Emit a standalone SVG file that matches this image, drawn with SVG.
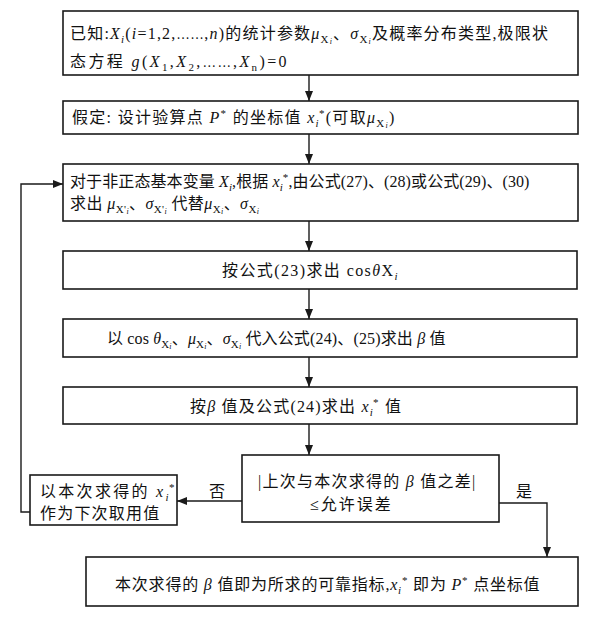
<svg xmlns="http://www.w3.org/2000/svg" width="605" height="619" viewBox="0 0 605 619">
<style>
.box{fill:#fff;stroke:#1a1a1a;stroke-width:1.6}
.ln{fill:none;stroke:#1a1a1a;stroke-width:1.4}
text{font-family:"Liberation Serif","Noto Sans CJK SC",serif;font-size:16px;fill:#111}
.i{font-style:italic}
.s{font-size:11px}
.ss{font-size:8px;font-style:italic}
.d{font-family:"Noto Sans CJK SC",sans-serif;font-size:12px}
</style>
<defs>
<marker id="ah" markerWidth="10" markerHeight="8" refX="10" refY="4" orient="auto" markerUnits="userSpaceOnUse">
<path d="M0,0 L10,4 L0,8 Z" fill="#1a1a1a"/>
</marker>
</defs>
<rect width="605" height="619" fill="#fff"/>
<g id="connectors">
<line class="ln" x1="309" y1="75" x2="309" y2="101" marker-end="url(#ah)"/>
<line class="ln" x1="309" y1="134" x2="309" y2="164" marker-end="url(#ah)"/>
<line class="ln" x1="309" y1="221" x2="309" y2="251" marker-end="url(#ah)"/>
<line class="ln" x1="309" y1="289" x2="309" y2="319" marker-end="url(#ah)"/>
<line class="ln" x1="309" y1="357" x2="309" y2="387" marker-end="url(#ah)"/>
<line class="ln" x1="309" y1="424" x2="309" y2="455" marker-end="url(#ah)"/>
<line class="ln" x1="242" y1="501" x2="177" y2="501" marker-end="url(#ah)"/>
<polyline class="ln" points="30,512 21,512 21,184 63,184" marker-end="url(#ah)"/>
<polyline class="ln" points="499,503 547,503 547,557" marker-end="url(#ah)"/>
<text x="209" y="497">否</text>
<text x="516" y="497">是</text>
</g>
<g id="n1">
<rect class="box" x="63" y="11" width="515" height="64"/>
<text x="70" y="39" letter-spacing="1.2">已知:<tspan class="i">X</tspan><tspan class="s i" dy="4">i</tspan><tspan dy="-4">(<tspan class="i">i</tspan>=1,2,<tspan class="d">……</tspan>,<tspan class="i">n</tspan>)的统计参数<tspan class="i">μ</tspan></tspan><tspan class="s" dy="4">X</tspan><tspan class="ss" dy="1">i</tspan><tspan dy="-5">、<tspan class="i">σ</tspan></tspan><tspan class="s" dy="4">X</tspan><tspan class="ss" dy="1">i</tspan><tspan dy="-5">及概率分布类型,极限状</tspan></text>
<text x="70" y="67" letter-spacing="2.4">态方程 <tspan class="i">g</tspan>(<tspan class="i">X</tspan><tspan class="s" dy="4">1</tspan><tspan dy="-4">,<tspan class="i">X</tspan></tspan><tspan class="s" dy="4">2</tspan><tspan dy="-4">,<tspan class="d">……</tspan>,<tspan class="i">X</tspan></tspan><tspan class="s" dy="4">n</tspan><tspan dy="-4">)=0</tspan></text>
</g>
<g id="n2">
<rect class="box" x="63" y="101" width="515" height="33"/>
<text x="72" y="123" letter-spacing="1.3">假定: 设计验算点 <tspan class="i">P</tspan><tspan class="s" dy="-6">*</tspan><tspan dy="6"> 的坐标值 <tspan class="i">x</tspan></tspan><tspan class="s i" dy="4">i</tspan><tspan class="s" dx="-1" dy="-10">*</tspan><tspan dy="6">(可取<tspan class="i">μ</tspan></tspan><tspan class="s" dy="4">X</tspan><tspan class="ss" dy="1">i</tspan><tspan dy="-5">)</tspan></text>
</g>
<g id="n3">
<rect class="box" x="63" y="164" width="515" height="57"/>
<text x="70" y="187" letter-spacing="0.1">对于非正态基本变量 <tspan class="i">X</tspan><tspan class="s i" dy="4">i</tspan><tspan dy="-4">,根据 <tspan class="i">x</tspan></tspan><tspan class="s i" dy="4">i</tspan><tspan class="s" dy="-10">*</tspan><tspan dy="6">,由公式(27)、(28)或公式(29)、(30)</tspan></text>
<text x="70" y="209" letter-spacing="0.4">求出 <tspan class="i">μ</tspan><tspan class="s" dy="4">X'</tspan><tspan class="ss" dy="1">i</tspan><tspan dy="-5">、<tspan class="i">σ</tspan></tspan><tspan class="s" dy="4">X'</tspan><tspan class="ss" dy="1">i</tspan><tspan dy="-5"> 代替<tspan class="i">μ</tspan></tspan><tspan class="s" dy="4">X</tspan><tspan class="ss" dy="1">i</tspan><tspan dy="-5">、<tspan class="i">σ</tspan></tspan><tspan class="s" dy="4">X</tspan><tspan class="ss" dy="1">i</tspan></text>
</g>
<g id="n4">
<rect class="box" x="63" y="251" width="514" height="38"/>
<text x="222" y="276" letter-spacing="1.4">按公式(23)求出 cos<tspan class="i">θ</tspan>X<tspan class="s i" dy="4">i</tspan></text>
</g>
<g id="n5">
<rect class="box" x="63" y="319" width="514" height="38"/>
<text x="107" y="344" letter-spacing="0.15">以 cos <tspan class="i">θ</tspan><tspan class="s" dy="4">X</tspan><tspan class="ss" dy="1">i</tspan><tspan dy="-5">、<tspan class="i">μ</tspan></tspan><tspan class="s" dy="4">X</tspan><tspan class="ss" dy="1">i</tspan><tspan dy="-5">、<tspan class="i">σ</tspan></tspan><tspan class="s" dy="4">X</tspan><tspan class="ss" dy="1">i</tspan><tspan dy="-5"> 代入公式(24)、(25)求出 <tspan class="i">β</tspan> 值</tspan></text>
</g>
<g id="n6">
<rect class="box" x="63" y="387" width="514" height="37"/>
<text x="190" y="412" letter-spacing="1.2">按<tspan class="i">β</tspan> 值及公式(24)求出 <tspan class="i">x</tspan><tspan class="s i" dy="4">i</tspan><tspan class="s" dx="-1" dy="-10">*</tspan><tspan dy="6"> 值</tspan></text>
</g>
<g id="n7">
<rect class="box" x="242" y="455" width="257" height="67"/>
<text x="258" y="487" letter-spacing="1.25">|上次与本次求得的 <tspan class="i">β</tspan> 值之差|</text>
<text x="310" y="510" letter-spacing="2">≤允许误差</text>
</g>
<g id="n8">
<rect class="box" x="30" y="475" width="147" height="50"/>
<text x="40" y="497" letter-spacing="2.3">以本次求得的 <tspan class="i">x</tspan><tspan class="s i" dy="4">i</tspan><tspan class="s" dx="-2" dy="-10">*</tspan></text>
<text x="40" y="519" letter-spacing="1.2">作为下次取用值</text>
</g>
<g id="n9">
<rect class="box" x="86" y="557" width="492" height="49"/>
<text x="115" y="590" letter-spacing="0.8">本次求得的 <tspan class="i">β</tspan> 值即为所求的可靠指标,<tspan class="i">x</tspan><tspan class="s i" dy="4">i</tspan><tspan class="s" dy="-10">*</tspan><tspan dy="6"> 即为 <tspan class="i">P</tspan></tspan><tspan class="s" dy="-6">*</tspan><tspan dy="6"> 点坐标值</tspan></text>
</g>
</svg>
